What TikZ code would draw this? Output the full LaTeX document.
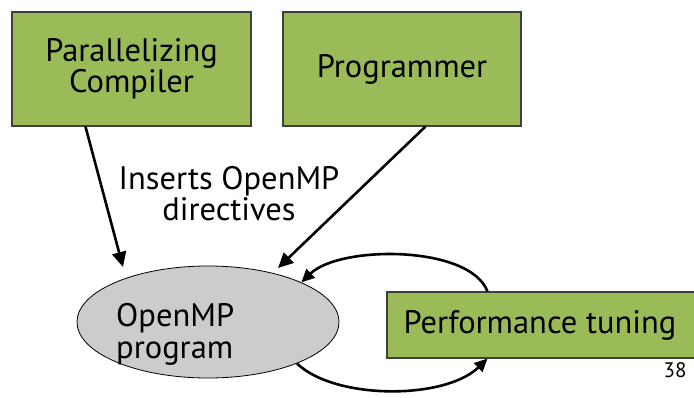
\documentclass[tikz,border=0pt]{standalone}
\usepackage{fontspec}
\setmainfont{PT Sans}
\usetikzlibrary{arrows.meta,shapes.geometric,calc}
\definecolor{boxgreen}{HTML}{9BBB59}
\definecolor{boxline}{HTML}{3F3F3F}
\definecolor{ovalgray}{HTML}{CCCCCC}
\tikzset{
  bigtext/.style={font=\fontsize{32.5}{31}\selectfont},
  greenbox/.style={draw=boxline, line width=1.1pt, fill=boxgreen, inner sep=0pt,
    align=center, bigtext},
  flow/.style={line width=2.6pt, -{Triangle[length=15pt,width=14pt]}},
  looparc/.style={line width=2.6pt, -{Triangle[length=13pt,width=12pt]}},
}
\begin{document}
\begin{tikzpicture}[x=1pt,y=-1pt]
  \useasboundingbox (0,0) rectangle (694,398);
  % source boxes
  \node[greenbox, minimum width=239pt, minimum height=114pt] (comp) at (131.5,69) {Parallelizing\\Compiler};
  \node[greenbox, minimum width=238pt, minimum height=114pt] (prog) at (402,69) {Programmer};
  % tuning box, running off the right edge
  \node[greenbox, minimum width=313pt, minimum height=66pt] (perf) at (543.5,325) {\hspace*{-7pt}Performance tuning};
  % the program
  \node[ellipse, draw=black, line width=0.8pt, fill=ovalgray, minimum width=262pt, minimum height=112pt, inner sep=0pt] (omp) at (208,322) {};
  \node[anchor=base west, align=left, inner sep=0pt, font=\fontsize{32.5}{32}\selectfont] (omptext) at (116,358) {OpenMP\\program};
  % label between the arrows
  \node[align=center, inner sep=0pt, bigtext] (ins) at (229,194) {Inserts OpenMP\\directives};
  % arrows into the program
  \draw[flow] ($(comp.south west)+(74,0)$) -- ($(omp.center)+(-85,-55)$);
  \draw[flow] ($(prog.south west)+(143,0)$) -- ($(omp.center)+(70,-54)$);
  % tuning loop
  \draw[looparc] ($(perf.north west)+(101,0)$) .. controls (470,245) and (340,245) .. (omp.23);
  \draw[looparc] (omp.-25) .. controls (335,400) and (445,400) .. ($(perf.south west)+(101,0)$);
  % page number
  \node[font=\fontsize{21}{22}\selectfont, inner sep=0pt] (pg) at (675,370) {38};
\end{tikzpicture}
\end{document}
